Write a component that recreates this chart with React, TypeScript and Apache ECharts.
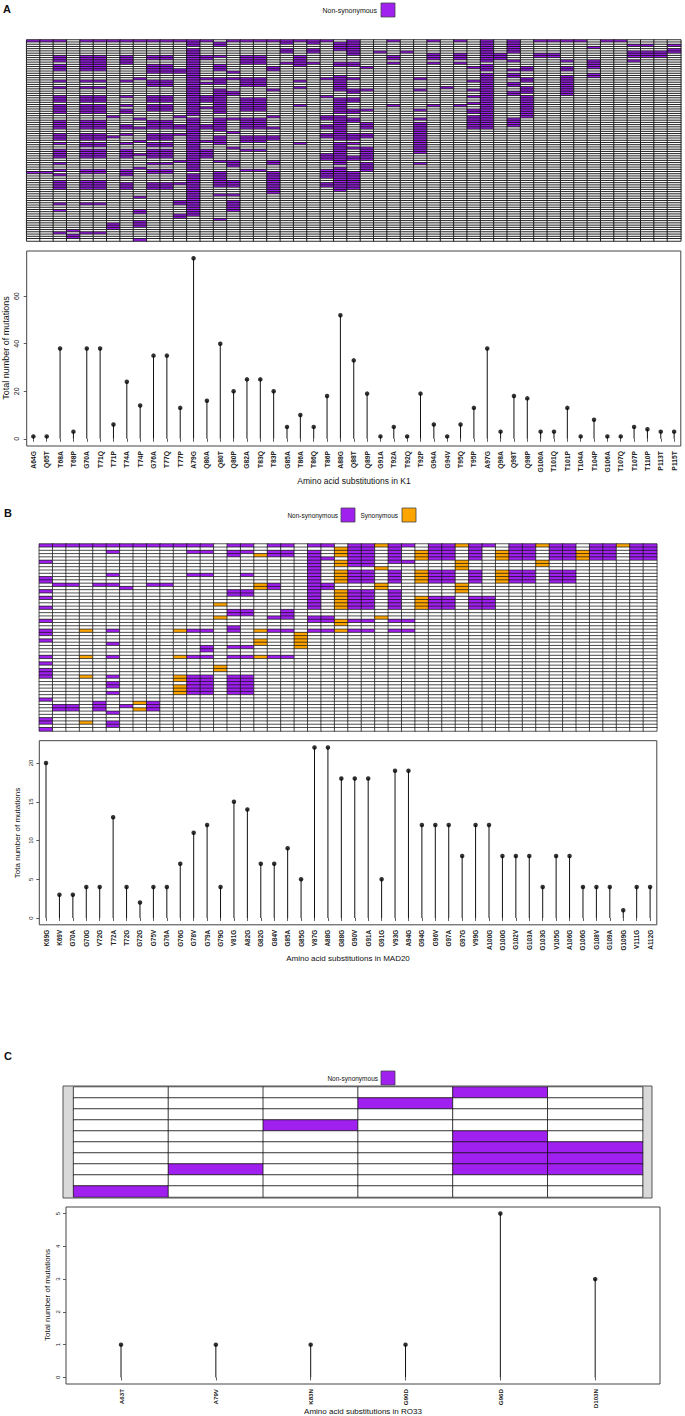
import React, { useEffect, useRef } from "react";
import * as echarts from "echarts";

// ---------------- Panel A (K1) ----------------
const A_LABELS = ["A64G","Q65T","T68A","T68P","G70A","T71Q","T71P","T74A","T74P","G76A","T77Q","T77P","A79G","Q80A","Q80T","Q80P","G82A","T83Q","T83P","G85A","T86A","T86Q","T86P","A88G","Q88T","Q89P","G91A","T92A","T92Q","T92P","G94A","G94V","T95Q","T95P","A97G","Q98A","Q98T","Q98P","G100A","T101Q","T101P","T104A","T104P","G106A","T107Q","T107P","T110P","P113T","P115T"];
const A_VALUES = [1,1,38,3,38,38,6,24,14,35,35,13,76,16,40,20,25,25,20,5,10,5,18,52,33,19,1,5,1,19,6,1,6,13,38,3,18,17,3,3,13,1,8,1,1,5,4,3,3];
const A_ROWS = 90;
// mutated rows per column, as [firstRow, lastRow] runs
const A_RUNS: number[][][] = [
  [[0,0],[59,59]],
  [[0,0],[59,59]],
  [[0,0],[7,9],[11,13],[18,18],[21,21],[25,27],[29,32],[36,39],[42,44],[46,46],[49,52],[55,55],[58,58],[60,60],[63,66],[73,73],[76,76],[86,86]],
  [[85,85],[87,88]],
  [[0,0],[7,10],[11,13],[18,18],[21,21],[25,27],[29,32],[36,39],[42,44],[46,47],[49,52],[58,59],[63,66],[73,73],[86,86]],
  [[0,0],[7,10],[11,13],[18,18],[21,21],[25,27],[29,32],[36,39],[42,44],[46,47],[49,52],[58,59],[63,66],[73,73],[86,86]],
  [[0,0],[34,34],[43,43],[82,84]],
  [[0,0],[7,10],[18,18],[25,25],[29,29],[31,32],[38,39],[42,42],[46,46],[49,52],[58,60],[64,66]],
  [[0,0],[17,17],[35,35],[39,39],[45,45],[51,51],[57,57],[70,70],[76,77],[81,83],[89,89]],
  [[0,0],[7,8],[11,14],[18,20],[25,27],[29,31],[36,39],[42,44],[46,47],[49,52],[55,55],[58,59],[64,66]],
  [[0,0],[7,8],[11,14],[18,20],[25,27],[29,31],[36,39],[42,44],[46,47],[49,52],[55,55],[58,59],[64,66]],
  [[0,0],[13,14],[34,34],[38,39],[42,42],[54,54],[64,64],[72,73],[78,79]],
  [[0,2],[4,33],[35,58],[60,78]],
  [[0,0],[7,8],[17,17],[19,19],[25,27],[30,30],[38,39],[45,45],[49,52]],
  [[1,2],[7,7],[11,13],[17,19],[22,32],[35,40],[43,46],[54,54],[59,65],[69,69],[80,80]],
  [[0,0],[14,14],[17,17],[23,24],[35,35],[41,41],[48,48],[54,56],[63,65],[69,69],[72,76]],
  [[0,0],[7,10],[17,20],[26,31],[35,39],[43,45],[49,49],[58,58]],
  [[0,0],[7,10],[17,20],[26,31],[35,39],[43,45],[49,49],[58,58]],
  [[0,0],[12,13],[22,22],[34,34],[39,39],[43,44],[54,55],[59,68]],
  [[0,1],[4,5],[10,10]],
  [[0,0],[7,11],[18,18],[21,21],[29,29],[46,46]],
  [[0,1],[4,5],[10,10]],
  [[0,0],[17,17],[25,25],[34,35],[38,39],[42,43],[51,53],[58,61],[64,65]],
  [[1,4],[10,11],[16,22],[26,32],[34,44],[46,55],[57,67]],
  [[0,6],[10,11],[17,17],[22,23],[26,27],[31,32],[35,36],[42,44],[46,46],[48,48],[52,53],[59,66]],
  [[12,12],[22,22],[31,31],[37,39],[42,43],[48,53],[55,58]],
  [[5,5]],
  [[0,0],[7,8],[10,10],[29,29]],
  [[5,5]],
  [[17,17],[22,22],[31,31],[35,35],[37,50],[55,55]],
  [[0,0],[6,8],[10,10],[29,29]],
  [[21,21]],
  [[0,0],[6,8],[10,10],[29,29]],
  [[12,12],[18,18],[22,22],[25,25],[28,28],[31,32],[34,39]],
  [[0,9],[11,13],[15,39]],
  [[6,8]],
  [[0,5],[9,9],[13,13],[15,16],[19,20],[23,24],[35,38]],
  [[12,13],[17,18],[21,23],[25,34]],
  [[0,0],[6,7]],
  [[0,0],[6,7]],
  [[0,0],[9,9],[12,13],[16,24]],
  [[0,0]],
  [[3,3],[9,12],[15,16]],
  [[0,0]],
  [[0,0]],
  [[2,2],[5,7],[9,9]],
  [[2,2],[5,7]],
  [[5,7]],
  [[2,2],[4,5]],
];

// ---------------- Panel B (MAD20) ----------------
const B_LABELS = ["K69G","K69V","G70A","G70G","V72G","T72A","T72G","G72G","G75V","G76A","G76G","G78V","G79A","G79G","V81G","A82G","G82G","G84V","G85A","G85G","V87G","A88G","G88G","G90V","G91A","G91G","V93G","A94G","G94G","G96V","G97A","G97G","V99G","A100G","G100G","G102V","G103A","G103G","V105G","A106G","G106G","G108V","G109A","G109G","V111G","A112G"];
const B_VALUES = [20,3,3,4,4,13,4,2,4,4,7,11,12,4,15,14,7,7,9,5,22,22,18,18,18,5,19,19,12,12,12,8,12,12,8,8,8,4,8,8,4,4,4,1,4,4];
const B_ROWS = 57;
// [firstRow, lastRow, kind] kind 1 = non-synonymous, 2 = synonymous
const B_RUNS: number[][][] = [
  [[0,0,1],[5,5,1],[10,11,1],[14,14,1],[16,16,1],[19,19,1],[23,23,1],[26,27,1],[29,29,1],[34,34,1],[36,36,1],[38,40,1],[47,47,1],[53,54,1],[56,56,1]],
  [[0,0,1],[12,12,1],[49,50,1]],
  [[0,0,1],[12,12,1],[49,50,1]],
  [[0,0,1],[26,26,2],[34,34,2],[40,40,2],[54,54,2]],
  [[0,0,1],[12,12,1],[48,50,1]],
  [[0,0,1],[2,2,1],[9,9,1],[12,12,1],[26,26,1],[30,30,1],[34,34,1],[40,40,1],[42,43,1],[45,45,1],[51,51,1],[54,55,1]],
  [[0,0,1],[13,13,1],[49,49,1]],
  [[0,0,1],[48,48,2],[50,50,2]],
  [[0,0,1],[12,12,1],[48,50,1]],
  [[0,0,1],[12,12,1]],
  [[0,0,1],[26,26,2],[34,34,2],[40,41,2],[43,45,2]],
  [[0,0,1],[2,2,1],[9,9,1],[26,26,1],[34,34,1],[40,45,1]],
  [[0,0,1],[2,2,1],[9,9,1],[26,26,1],[31,32,1],[34,34,1],[40,45,1]],
  [[18,18,2],[22,22,2],[37,38,2]],
  [[0,0,1],[2,3,1],[14,15,1],[20,21,1],[25,26,1],[31,31,1],[34,34,1],[40,45,1]],
  [[0,0,1],[2,2,1],[9,9,1],[14,15,1],[20,21,1],[31,31,1],[34,34,1],[40,45,1]],
  [[3,3,2],[12,13,2],[26,26,2],[29,30,2],[34,34,2]],
  [[0,0,1],[2,3,1],[12,13,1],[22,22,1],[26,26,1],[34,34,1]],
  [[0,0,1],[2,3,1],[20,22,1],[26,26,1],[34,34,1]],
  [[27,31,2]],
  [[0,0,1],[2,19,1],[22,23,1],[26,26,1]],
  [[0,0,1],[4,4,1],[12,13,1],[22,23,1],[26,26,1]],
  [[1,3,2],[5,6,2],[8,11,2],[14,19,2],[23,24,2],[26,26,2]],
  [[0,6,1],[8,11,1],[14,19,1],[23,23,1],[26,26,1]],
  [[0,6,1],[8,11,1],[14,19,1],[23,23,1],[26,26,1]],
  [[0,0,2],[7,7,2],[12,13,2],[22,22,2]],
  [[0,5,1],[8,11,1],[14,19,1],[23,23,1],[26,26,1]],
  [[0,0,1],[5,5,1],[23,23,1],[26,26,1]],
  [[2,4,2],[8,11,2],[16,19,2]],
  [[0,4,1],[8,11,1],[16,19,1]],
  [[0,4,1],[8,11,1],[16,19,1]],
  [[0,0,2],[5,7,2],[12,14,2]],
  [[0,4,1],[8,11,1],[16,19,1]],
  [[0,0,1],[16,19,1]],
  [[2,4,2],[8,11,2]],
  [[0,4,1],[8,11,1]],
  [[0,4,1],[8,11,1]],
  [[0,0,2],[5,6,2]],
  [[0,4,1],[8,11,1]],
  [[0,4,1],[8,11,1]],
  [[2,4,2]],
  [[0,4,1]],
  [[0,4,1]],
  [[0,0,2]],
  [[0,4,1]],
  [[0,4,1]],
];

// ---------------- Panel C (RO33) ----------------
const C_LABELS = ["A63T","A79V","K83N","G90D","G96D","D103N"];
const C_VALUES = [1,1,1,1,5,3];
const C_ROWS = 10;
const C_RUNS: number[][][] = [
  [[9,9]],
  [[7,7]],
  [[3,3]],
  [[1,1]],
  [[0,0],[4,7]],
  [[5,7]],
];

const PURPLE = "#a020f0";
const ORANGE = "#ffa500";
const FONT = "Liberation Sans, Arial, Helvetica, sans-serif";

function expand(runs: number[][][], nRows: number) {
  const out: number[][] = [];
  runs.forEach((col, c) => {
    const vals = new Array(nRows).fill(0);
    col.forEach((r) => {
      for (let i = r[0]; i <= r[1]; i++) vals[i] = r.length > 2 ? r[2] : 1;
    });
    vals.forEach((v, r) => out.push([c, r, v]));
  });
  return out;
}
const rowCats = (n: number) => Array.from({ length: n }, (_, i) => String(i));

export default function App() {
  const ref = useRef<HTMLDivElement>(null);
  useEffect(() => {
    document.body.style.margin = "0";
    const chart = echarts.init(ref.current!, null, { renderer: "svg", width: 685, height: 1416 });

    const grids = [
      { left: 26.7, top: 40, width: 654.1, height: 201 },
      { left: 26.7, top: 251, width: 654.1, height: 195, show: true, borderColor: "#444", borderWidth: 1, backgroundColor: "transparent" },
      { left: 39.3, top: 544, width: 617.5, height: 187 },
      { left: 39.3, top: 740.7, width: 617.5, height: 184.1, show: true, borderColor: "#444", borderWidth: 1, backgroundColor: "transparent" },
      { left: 73.6, top: 1087, width: 569, height: 110 },
      { left: 73.6, top: 1207, width: 569, height: 177 },
    ];

    const hmX = (gi: number, labels: string[]) => ({ type: "category", gridIndex: gi, data: labels, show: false });
    const hmY = (gi: number, n: number) => ({ type: "category", gridIndex: gi, data: rowCats(n), inverse: true, show: false });

    const lolX = (gi: number, labels: string[], fs: number) => ({
      type: "category", gridIndex: gi, data: labels, boundaryGap: true,
      axisLine: { show: false },
      axisTick: { show: true, alignWithLabel: true, length: 3, lineStyle: { color: "#333", width: 0.8 } },
      axisLabel: { rotate: 90, fontSize: fs, fontWeight: "bold", color: "#222", margin: 5, fontFamily: FONT, interval: 0 },
      splitLine: { show: false },
    });
    const lolY = (gi: number, min: number, max: number, ticks: number[], fs: number, margin: number, offset = 0) => ({
      type: "value", gridIndex: gi, min, max, offset,
      axisLine: { show: false },
      axisTick: { show: true, length: 3, customValues: ticks, lineStyle: { color: "#333", width: 0.8 } },
      axisLabel: { customValues: ticks, rotate: 90, fontSize: fs, color: "#222", margin, fontFamily: FONT },
      splitLine: { show: false },
    });

    const lollipop = (gi: number, values: number[], dot: number) => [
      { type: "bar", xAxisIndex: gi, yAxisIndex: gi, data: values, barWidth: 1, itemStyle: { color: "#111" }, silent: true },
      { type: "scatter", xAxisIndex: gi, yAxisIndex: gi, data: values, symbolSize: dot, itemStyle: { color: "#000" }, silent: true },
    ];

    const txt = (x: number, y: number, text: string, size: number, opts: any = {}) => ({
      type: "text", x, y, rotation: opts.rotation || 0,
      style: { text, fontSize: size, fontFamily: FONT, fill: "#111", fontWeight: opts.bold ? "bold" : "normal", textAlign: opts.align || "center", textVerticalAlign: "middle" },
    });
    const box = (x: number, y: number, color: string) => ({
      type: "rect", shape: { x, y, width: 14, height: 14 }, style: { fill: color, stroke: "#444", lineWidth: 0.8 },
    });
    const ROT = Math.PI / 2;

    chart.setOption({
      animation: false,
      grid: grids,
      xAxis: [
        hmX(0, A_LABELS), lolX(1, A_LABELS, 6.8),
        hmX(2, B_LABELS), lolX(3, B_LABELS, 6.4),
        hmX(4, C_LABELS), lolX(5, C_LABELS, 6.2),
      ],
      yAxis: [
        hmY(0, A_ROWS), lolY(1, -3.04, 79.04, [0, 20, 40, 60], 7, 7),
        hmY(2, B_ROWS), lolY(3, -0.88, 22.88, [0, 5, 10, 15, 20], 6, 5),
        hmY(4, C_ROWS), lolY(5, -0.2, 5.2, [0, 1, 2, 3, 4, 5], 6, 5, 7.6),
      ],
      visualMap: {
        type: "piecewise", show: false, seriesIndex: [0, 3, 6], dimension: 2,
        pieces: [{ value: 0, color: "#ffffff" }, { value: 1, color: PURPLE }, { value: 2, color: ORANGE }],
      },
      series: [
        { type: "heatmap", xAxisIndex: 0, yAxisIndex: 0, data: expand(A_RUNS, A_ROWS), itemStyle: { borderColor: "#111", borderWidth: 0.9 }, progressive: 0, silent: true },
        ...lollipop(1, A_VALUES, 4.5),
        { type: "heatmap", xAxisIndex: 2, yAxisIndex: 2, data: expand(B_RUNS, B_ROWS), itemStyle: { borderColor: "#111", borderWidth: 0.7 }, progressive: 0, silent: true },
        ...lollipop(3, B_VALUES, 4.5),
        { type: "heatmap", xAxisIndex: 4, yAxisIndex: 4, data: expand(C_RUNS, C_ROWS), itemStyle: { borderColor: "#111", borderWidth: 0.8 }, progressive: 0, silent: true },
        ...lollipop(5, C_VALUES, 4.5),
      ],
      graphic: [
        txt(7, 9, "A", 11, { bold: true }),
        txt(377, 10, "Non-synonymous", 7, { align: "right" }),
        box(381, 3, PURPLE),
        txt(6, 348, "Total number of mutations", 9, { rotation: ROT }),
        txt(354, 481, "Amino acid substitutions in K1", 8.5),

        txt(8, 513, "B", 11, { bold: true }),
        txt(338, 515, "Non-synonymous", 6.5, { align: "right" }),
        box(341, 508, PURPLE),
        txt(398, 515, "Synonymous", 6.5, { align: "right" }),
        box(402, 508, ORANGE),
        txt(17, 833, "Tota number of mutations", 8, { rotation: ROT }),
        txt(348, 958, "Amino acid substitutions in MAD20", 8),

        txt(8, 1056, "C", 11, { bold: true }),
        txt(378, 1078, "Non-synonymous", 6.5, { align: "right" }),
        box(381, 1071, PURPLE),
        { type: "rect", shape: { x: 63, y: 1086, width: 10, height: 112 }, style: { fill: "#d9d9d9", stroke: "none" } },
        { type: "rect", shape: { x: 642.6, y: 1086, width: 9.4, height: 112 }, style: { fill: "#d9d9d9", stroke: "none" } },
        { type: "rect", shape: { x: 63, y: 1086, width: 589, height: 112 }, style: { fill: "none", stroke: "#555", lineWidth: 1 }, z: 10 },
        { type: "rect", shape: { x: 66, y: 1207, width: 594, height: 177 }, style: { fill: "none", stroke: "#444", lineWidth: 1 }, z: 10 },
        txt(47, 1295, "Total number of mutations", 8, { rotation: ROT }),
        txt(363, 1411, "Amino acid substitutions in RO33", 8),
      ],
    });
    return () => chart.dispose();
  }, []);
  return <div ref={ref} style={{ width: 685, height: 1416 }} />;
}
